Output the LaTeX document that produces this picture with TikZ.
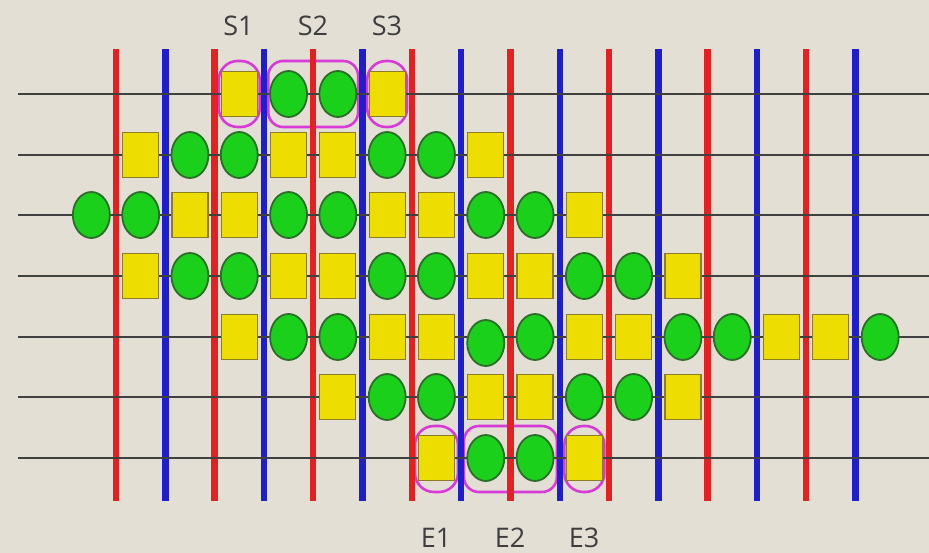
\documentclass[tikz,border=0pt]{standalone}
\usepackage{fontspec}
\setmainfont{Open Sans}
\usetikzlibrary{shapes.geometric,calc}
\definecolor{bg}{HTML}{E4DFD5}
\definecolor{vred}{HTML}{E52020}
\definecolor{vblue}{HTML}{1E1ECC}
\definecolor{yfill}{HTML}{EEDD00}
\definecolor{ydraw}{HTML}{8C7C28}
\definecolor{gfill}{HTML}{1AD01A}
\definecolor{gdraw}{HTML}{2A6E2A}
\definecolor{mag}{HTML}{D83AD8}
\definecolor{lbl}{HTML}{3E3E3E}
\tikzset{
  ysq/.style={draw=ydraw, line width=1.2pt, fill=yfill, rectangle, minimum width=36pt, minimum height=45pt, inner sep=0pt},
  gci/.style={draw=gdraw, line width=1.8pt, fill=gfill, ellipse, minimum width=37pt, minimum height=46pt, inner sep=0pt},
  hline/.style={draw=black!75, line width=1.2pt},
  vr/.style={draw=vred, line width=6.4pt},
  vb/.style={draw=vblue, line width=6.4pt},
  magbox/.style={draw=mag, line width=2.6pt, rounded corners=19pt, rectangle, inner sep=0pt},
  lab/.style={text=lbl, font=\fontsize{27}{30}\selectfont, inner sep=0pt}
}
\begin{document}
\begin{tikzpicture}[x=1pt,y=-1pt]
\fill[bg] (0,0) rectangle (929,553);
\useasboundingbox (0,0) rectangle (929,553);
% row coordinates
\foreach \r/\y in {1/94,2/155,3/215,4/276,5/337,6/397,7/458}{
  \coordinate (L\r) at (18,\y);
  \coordinate (R\r) at (929,\y);
}
% vertical line end coordinates
\foreach \k in {0,...,15}{
  \coordinate (T\k) at ({116+49.3*\k},49);
  \coordinate (B\k) at ({116+49.3*\k},501);
}
% magenta boxes
\node[magbox, minimum width=41pt, minimum height=66pt] (S1box) at ({116+49.3*2.5},94) {};
\node[magbox, minimum width=90pt, minimum height=66pt, rounded corners=15pt] (S2box) at ({116+49.3*4},94) {};
\node[magbox, minimum width=40pt, minimum height=66pt] (S3box) at ({116+49.3*5.5},94) {};
\node[magbox, minimum width=43pt, minimum height=66pt] (E1box) at ({116+49.3*6.5},459) {};
\node[magbox, minimum width=93pt, minimum height=66pt, rounded corners=15pt] (E2box) at ({116+49.3*8},459) {};
\node[magbox, minimum width=40pt, minimum height=66pt] (E3box) at ({116+49.3*9.5},459) {};
% vertical lines
\foreach \k in {0,2,...,14}
  \draw[vr] (T\k) -- (B\k);
\foreach \k in {1,3,...,15}
  \draw[vb] (T\k) -- (B\k);
% horizontal lines
\foreach \r in {1,...,7}
  \draw[hline] (L\r) -- (R\r);
% shapes
\foreach \c/\t in {3/ysq,4/gci,5/gci,6/ysq}
  \node[\t] (r1c\c) at ({116+49.3*(\c-0.5)},94) {};
\foreach \c/\t in {1/ysq,2/gci,3/gci,4/ysq,5/ysq,6/gci,7/gci,8/ysq}
  \node[\t] (r2c\c) at ({116+49.3*(\c-0.5)},155) {};
\foreach \c/\t in {0/gci,1/gci,2/ysq,3/ysq,4/gci,5/gci,6/ysq,7/ysq,8/gci,9/gci,10/ysq}
  \node[\t] (r3c\c) at ({116+49.3*(\c-0.5)},215) {};
\foreach \c/\t in {1/ysq,2/gci,3/gci,4/ysq,5/ysq,6/gci,7/gci,8/ysq,9/ysq,10/gci,11/gci,12/ysq}
  \node[\t] (r4c\c) at ({116+49.3*(\c-0.5)},276) {};
\foreach \c/\t in {3/ysq,4/gci,5/gci,6/ysq,7/ysq,9/gci,10/ysq,11/ysq,12/gci,13/gci,14/ysq,15/ysq,16/gci}
  \node[\t] (r5c\c) at ({116+49.3*(\c-0.5)},337) {};
\node[gci] (r5c8) at ({116+49.3*7.5},343) {};
\foreach \c/\t in {5/ysq,6/gci,7/gci,8/ysq,9/ysq,10/gci,11/gci,12/ysq}
  \node[\t] (r6c\c) at ({116+49.3*(\c-0.5)},397) {};
\foreach \c/\t in {7/ysq,8/gci,9/gci,10/ysq}
  \node[\t] (r7c\c) at ({116+49.3*(\c-0.5)},458) {};
% labels
\node[lab] (S1) at (238.5,26) {S1};
\node[lab] (S2) at (313,26) {S2};
\node[lab] (S3) at (387,26) {S3};
\node[lab] (E1) at (436,538) {E1};
\node[lab] (E2) at (510,538) {E2};
\node[lab] (E3) at (584,538) {E3};
\end{tikzpicture}
\end{document}
